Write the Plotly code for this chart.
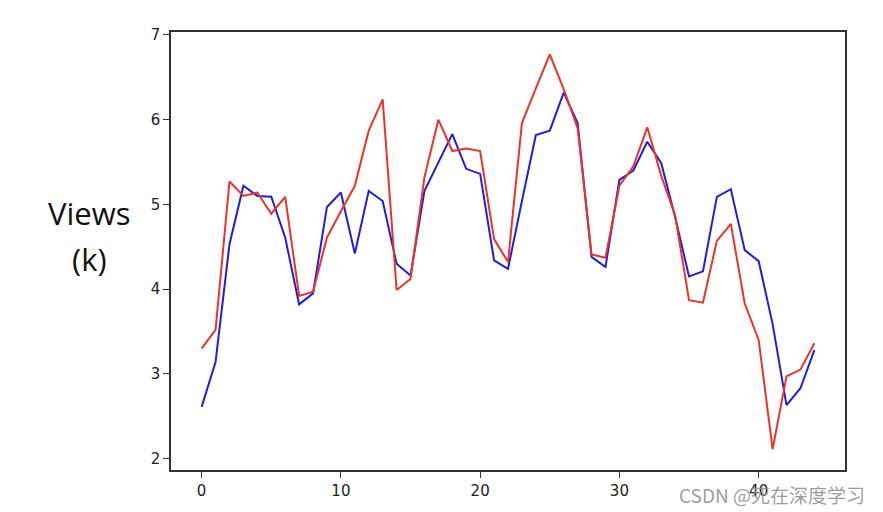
import plotly.graph_objects as go

days = list(range(45))

actual = [2.61, 3.14, 4.53, 5.22, 5.10, 5.09, 4.61, 3.82, 3.95, 4.97,
          5.14, 4.42, 5.16, 5.04, 4.30, 4.16, 5.16, 5.49, 5.83, 5.42,
          5.36, 4.34, 4.24, 5.04, 5.82, 5.87, 6.32, 5.96, 4.38, 4.26,
          5.29, 5.40, 5.74, 5.49, 4.85, 4.15, 4.21, 5.09, 5.18, 4.46,
          4.33, 3.59, 2.63, 2.83, 3.28]

predicted = [3.30, 3.52, 5.27, 5.10, 5.14, 4.89, 5.09, 3.92, 3.97, 4.61,
             4.92, 5.22, 5.87, 6.24, 3.99, 4.12, 5.32, 6.00, 5.63, 5.66,
             5.63, 4.59, 4.32, 5.96, 6.37, 6.77, 6.36, 5.90, 4.41, 4.37,
             5.22, 5.45, 5.91, 5.34, 4.87, 3.87, 3.84, 4.57, 4.77, 3.83,
             3.40, 2.11, 2.97, 3.05, 3.36]

x_ticks = [0, 10, 20, 30, 40]
y_ticks = [2, 3, 4, 5, 6, 7]

fig = go.Figure()

fig.add_trace(go.Scatter(
    x=days, y=actual, mode='lines',
    line=dict(color='rgb(30,30,225)', width=2),
    showlegend=False, hoverinfo='skip',
))
fig.add_trace(go.Scatter(
    x=days, y=predicted, mode='lines',
    line=dict(color='rgb(240,50,38)', width=2),
    showlegend=False, hoverinfo='skip',
))

axis_style = dict(
    showgrid=False, zeroline=False,
    showline=True, linecolor='#333333', linewidth=1.5, mirror=True,
    ticks='outside', ticklen=6, tickwidth=1.2, tickcolor='#333333',
    tickfont=dict(family='DejaVu Sans', size=15, color='#222222'),
)

fig.update_xaxes(range=[-2.2, 46.2], tickvals=x_ticks, **axis_style)
fig.update_yaxes(range=[1.865, 7.035], tickvals=y_ticks, **axis_style)

# y label drawn as two lines, like the reference
fig.add_annotation(text='Views', x=89, y=213, xref='paper', yref='paper',
                   showarrow=False, font=dict(family='Open Sans', size=31, color='#111111'))
fig.add_annotation(text='(k)', x=89, y=259, xref='paper', yref='paper',
                   showarrow=False, font=dict(family='Open Sans', size=31, color='#111111'))

fig.add_annotation(text='CSDN @死在深度学习', x=772, y=494, xref='paper', yref='paper',
                   showarrow=False,
                   font=dict(family='Noto Sans CJK SC', size=19, color='rgba(140,140,140,0.85)'))

# page has an 8px body margin, so shift everything back by that
off = 8
W, H = 883, 512
L, R, T, B = 171 - off, 38 + off, 32 - off, 42 + off
pw, ph = W - L - R, H - T - B
for a in fig.layout.annotations:
    a.xanchor = 'center'
    a.yanchor = 'middle'
    a.x = (a.x - off - L) / pw
    a.y = 1 - (a.y - off - T) / ph

fig.update_layout(
    width=W, height=H,
    margin=dict(l=L, r=R, t=T, b=B),
    paper_bgcolor='white', plot_bgcolor='white',
)

fig.write_html('out.html')
